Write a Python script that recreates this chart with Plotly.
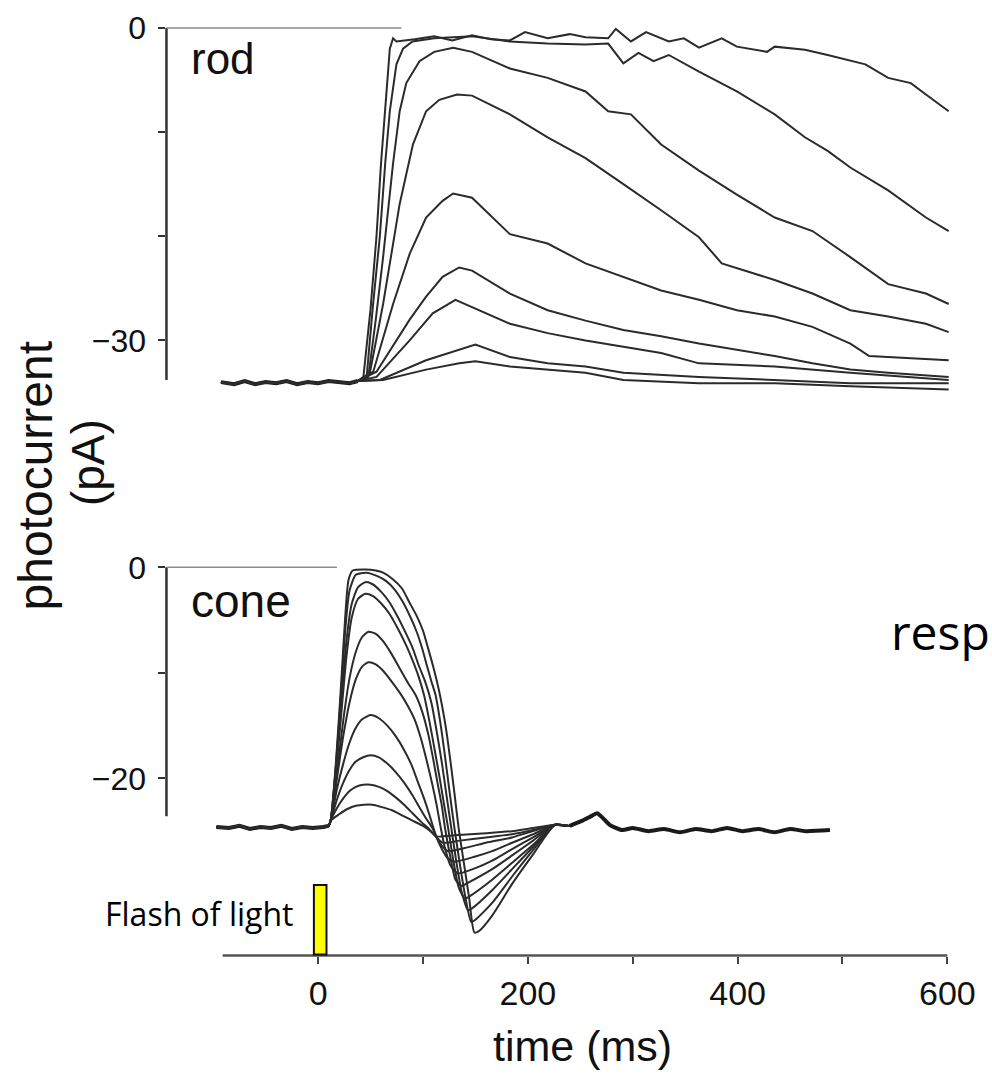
import plotly.graph_objects as go

W, H = 992, 1075

# ---------------- data (time in ms, photocurrent in pA) ----------------
rod_pre_t = [-92.6, -80, -70, -60, -50, -40, -30, -20, -10, 0, 10, 20, 30, 38]
rod_pre_v = [-34.0, -34.2, -33.9, -34.2, -34.0, -34.1, -33.9, -34.2, -34.0, -34.1, -33.9, -34.0, -34.1, -33.9]

rod1_t = [43.2, 50, 55.7, 60, 65.2, 68.4, 71.5, 74.7, 92, 110.7, 128, 146.8, 165, 182.9, 197.3, 218.9, 240, 255,
          276.6, 283.9, 298.3, 312.7, 334.4, 348.8, 363.2, 384.9, 399.3, 428.1, 435.4, 464.2, 485.9, 507.5, 521.9,
          543.6, 565.2, 579.6, 601.3]
rod1_v = [-33.5, -27, -20, -13, -6, -2.0, -1.0, -1.3, -1.1, -0.8, -1.2, -0.7, -1.1, -1.2, -0.4, -1.0, -0.6, -0.9,
          -1.0, -0.1, -1.3, -0.4, -1.3, -1.0, -1.9, -1.0, -1.8, -2.3, -1.8, -2.1, -2.6, -3.1, -3.5, -4.8, -5.3,
          -6.4, -8.0]
rod2_t = [46.3, 52, 58.9, 64, 68.4, 74.7, 81, 90, 110.7, 146.8, 182.9, 218.9, 255, 276.6, 291.1, 305.5, 319.9,
          334.4, 348.8, 363.2, 399.3, 435.4, 464.2, 485.9, 507.5, 543.6, 579.6, 601.3]
rod2_v = [-33.5, -27, -20, -13, -8, -3.5, -2.0, -1.3, -1.0, -0.8, -1.3, -1.5, -1.6, -1.5, -3.4, -2.4, -3.2,
          -2.6, -3.4, -4.2, -6.1, -8.3, -10.5, -11.8, -13.4, -15.6, -18.2, -19.5]
rod3_t = [47.9, 55, 62, 71.5, 77.8, 84.1, 96.7, 110.7, 128.8, 146.8, 182.9, 218.9, 255, 276.6, 298.3, 327.1,
          363.2, 399.3, 435.4, 471.4, 507.5, 543.6, 579.6, 601.3]
rod3_v = [-33.5, -28, -22, -13, -8, -5.3, -3.2, -2.3, -1.9, -2.3, -3.9, -4.8, -6.1, -8.0, -8.3, -11.2,
          -13.7, -16.0, -18.2, -19.5, -22.0, -24.6, -25.5, -26.5]
rod4_t = [49.4, 62, 77.8, 90.4, 103, 115.6, 132.4, 146.8, 182.9, 218.9, 255, 291.1, 327.1, 363.2, 384.9,
          435.4, 471.4, 507.5, 543.6, 579.6, 601.3]
rod4_v = [-33.1, -26.5, -16.9, -11.2, -8.0, -6.9, -6.4, -6.5, -8.3, -10.5, -12.5, -15.0, -17.5, -20.1, -22.6,
          -24.2, -25.5, -27.1, -27.7, -28.4, -29.2]
rod5_t = [52.6, 71.5, 87.3, 103, 118.7, 128.8, 146.8, 182.9, 218.9, 255, 291.1, 327.1, 363.2, 399.3, 435.4,
          471.4, 507.5, 525.5, 601.3]
rod5_v = [-33.0, -26.5, -21.7, -18.2, -16.6, -15.9, -16.3, -19.8, -20.7, -22.6, -23.9, -25.2, -26.1, -27.1,
          -27.7, -28.7, -30.3, -31.5, -31.9]
rod6_t = [55.7, 87.3, 103, 118.7, 134.5, 146.8, 182.9, 218.9, 255, 291.1, 327.1, 363.2, 399.3, 435.4, 471.4,
          507.5, 543.6, 601.3]
rod6_v = [-33.0, -28.0, -25.8, -23.9, -23.0, -23.3, -25.5, -27.1, -28.1, -29.0, -29.6, -30.3, -30.9, -31.5,
          -32.2, -32.8, -33.1, -33.5]
rod7_t = [55.7, 87.3, 109.3, 131, 182.9, 218.9, 255, 291.1, 327.1, 363.2, 435.4, 507.5, 601.3]
rod7_v = [-33.5, -30.0, -27.4, -26.1, -28.4, -29.3, -30.0, -30.6, -31.2, -32.2, -32.5, -33.1, -33.8]
rod8_t = [58.9, 103, 134.5, 150, 182.9, 218.9, 255, 291.1, 363.2, 435.4, 507.5, 601.3]
rod8_v = [-33.8, -31.9, -30.9, -30.4, -31.6, -32.2, -32.5, -33.1, -33.5, -33.8, -34.1, -34.1]
rod9_t = [62, 103, 134.5, 150, 182.9, 255, 291.1, 363.2, 435.4, 507.5, 601.3]
rod9_v = [-33.8, -32.8, -32.2, -32.0, -32.5, -33.1, -33.8, -34.1, -34.1, -34.4, -34.7]

cone_pre_t = [-97, -85, -75, -65, -55, -45, -35, -25, -15, -5, 5, 10]
cone_pre_v = [-24.6, -24.7, -24.5, -24.8, -24.6, -24.7, -24.5, -24.8, -24.6, -24.7, -24.6, -24.5]
cone_tail_t = [240, 252, 260, 266, 271, 278, 290, 300, 315, 330, 345, 360, 375, 390, 405, 420, 435, 450, 465, 488]
cone_tail_v = [-24.5, -24.0, -23.6, -23.3, -23.7, -24.4, -24.9, -24.7, -25.0, -24.8, -25.1, -24.8, -25.0, -24.7,
               -25.0, -24.8, -25.1, -24.8, -25.0, -24.9]

cone1_t = [12, 17, 22, 26, 29, 33, 45, 55, 62, 71, 80, 87, 94, 100, 105, 110, 116, 122, 126, 130, 134, 139, 144,
           149, 153, 166, 185, 205, 226]
cone1_v = [-24.0, -18.5, -11.0, -4.5, -1.2, -0.3, -0.2, -0.3, -0.5, -1.1, -2.0, -3.3, -4.6, -6.0, -7.7, -9.5,
           -12.0, -15.3, -18.2, -21.4, -24.7, -28.0, -31.3, -34.6, -34.5, -33.0, -30.0, -27.2, -24.4]
cone2_t = [12, 17, 22, 26, 30, 36, 46, 56, 65, 73, 81, 88, 94, 99, 104, 108, 112, 117, 121, 125, 130, 135, 140,
           146, 150, 166, 185, 205, 226]
cone2_v = [-24.0, -18.8, -11.8, -5.8, -2.2, -0.7, -0.5, -0.8, -1.3, -2.1, -3.3, -4.7, -6.1, -7.6, -9.4, -10.8,
           -12.1, -15.0, -17.9, -21.0, -24.7, -28.0, -31.0, -33.6, -33.4, -31.8, -29.3, -26.8, -24.4]
cone3_t = [12, 17, 22, 27, 32, 38, 45, 52, 60, 68, 76, 84, 90, 96, 102, 108, 113, 118, 122, 127, 132, 137, 143,
           147, 166, 185, 205, 226]
cone3_v = [-24.0, -19.0, -13.0, -7.0, -3.5, -1.9, -1.4, -1.6, -2.3, -3.3, -4.7, -6.3, -7.6, -9.3, -10.8, -12.8,
           -15.5, -18.5, -21.3, -24.7, -28.0, -30.8, -32.5, -32.3, -30.6, -28.6, -26.5, -24.4]
cone4_t = [12, 17, 22, 27, 32, 38, 45, 52, 60, 68, 76, 84, 90, 96, 101, 106, 111, 116, 120, 124, 129, 134, 140,
           144, 166, 185, 205, 226]
cone4_v = [-24.0, -19.5, -14.0, -8.5, -4.8, -3.0, -2.5, -2.7, -3.4, -4.4, -5.8, -7.4, -8.8, -10.4, -12.1, -14.5,
           -17.2, -20.0, -22.4, -24.7, -27.8, -30.3, -31.4, -31.2, -29.6, -28.0, -26.3, -24.4]
cone5_t = [12, 18, 24, 30, 36, 42, 48, 55, 62, 70, 78, 86, 93, 99, 105, 110, 114, 118, 121, 126, 131, 137, 141,
           166, 185, 205, 226]
cone5_v = [-24.0, -19.5, -14.5, -10.5, -8.0, -6.6, -6.1, -6.3, -7.0, -8.2, -9.6, -11.0, -12.1, -13.6, -15.8,
           -18.3, -20.5, -22.6, -24.7, -27.4, -29.6, -30.2, -30.0, -28.6, -27.3, -25.9, -24.4]
cone6_t = [12, 18, 24, 30, 36, 42, 48, 55, 62, 70, 78, 86, 92, 98, 104, 109, 113, 117, 121, 126, 133, 150, 166,
           185, 205, 226]
cone6_v = [-24.0, -20.0, -16.0, -12.8, -10.6, -9.4, -9.0, -9.2, -9.8, -10.8, -11.9, -13.2, -14.4, -16.2, -18.5,
           -20.6, -22.5, -24.7, -26.6, -28.2, -29.0, -28.5, -27.8, -26.7, -25.6, -24.4]
cone7_t = [12, 18, 24, 30, 36, 42, 50, 58, 66, 74, 82, 89, 95, 101, 106, 110, 113, 118, 123, 129, 150, 166, 185,
           205, 226]
cone7_v = [-24.0, -21.0, -18.6, -16.6, -15.2, -14.4, -14.0, -14.3, -15.0, -16.0, -17.3, -18.7, -20.3, -21.9,
           -23.4, -24.7, -25.6, -26.7, -27.5, -27.9, -27.4, -26.9, -26.1, -25.3, -24.4]
cone8_t = [12, 18, 24, 30, 36, 43, 50, 58, 66, 74, 82, 90, 97, 103, 109, 114, 119, 124, 140, 160, 185, 205, 226]
cone8_v = [-24.0, -22.0, -20.4, -19.2, -18.4, -18.0, -17.8, -18.0, -18.6, -19.4, -20.4, -21.6, -22.8, -23.8,
           -24.7, -25.8, -26.5, -26.9, -26.6, -26.1, -25.6, -25.0, -24.4]
cone9_t = [12, 18, 24, 30, 36, 43, 50, 58, 66, 74, 82, 90, 98, 105, 112, 119, 135, 160, 185, 205, 226]
cone9_v = [-24.0, -22.8, -21.9, -21.2, -20.8, -20.6, -20.6, -20.8, -21.2, -21.8, -22.5, -23.3, -24.1, -24.7,
           -25.5, -26.1, -25.9, -25.6, -25.3, -24.9, -24.4]
cone10_t = [12, 20, 28, 36, 44, 52, 60, 70, 80, 90, 100, 106, 113, 130, 160, 185, 205, 226]
cone10_v = [-24.0, -23.4, -22.9, -22.6, -22.5, -22.5, -22.7, -23.0, -23.5, -24.0, -24.5, -24.9, -25.5, -25.4,
            -25.2, -25.0, -24.7, -24.4]

rod_traces = [(rod1_t, rod1_v), (rod2_t, rod2_v), (rod3_t, rod3_v), (rod4_t, rod4_v), (rod5_t, rod5_v),
              (rod6_t, rod6_v), (rod7_t, rod7_v), (rod8_t, rod8_v), (rod9_t, rod9_v)]
cone_traces = [(cone1_t, cone1_v), (cone2_t, cone2_v), (cone3_t, cone3_v), (cone4_t, cone4_v),
               (cone5_t, cone5_v), (cone6_t, cone6_v), (cone7_t, cone7_v), (cone8_t, cone8_v),
               (cone9_t, cone9_v), (cone10_t, cone10_v)]

x_tickvals = [0, 100, 200, 300, 400, 500, 600]
x_ticktext = ['0', '', '200', '', '400', '', '600']
rod_tickvals = [0, -10, -20, -30]
rod_ticktext = ['0', '', '', '\u221230']
cone_tickvals = [0, -10, -20]
cone_ticktext = ['0', '', '\u221220']

# ---------------- layout calibration (pixels) ----------------
X_ZERO_PX, PX_PER_MS = 321.0, 635.0 / 600.0
XD0, XD1 = 168, 975
ROD_ZERO_PX, ROD_PX_PER_PA = 23.0, 314.0 / 30.0
ROD_D0, ROD_D1 = 10, 400
CONE_ZERO_PX, CONE_PX_PER_PA = 565.0, 212.0 / 20.0
CONE_D0, CONE_D1 = 550, 955


def fx(p):
    return p / W


def fy(p):
    return 1 - p / H


x_range = [(XD0 - X_ZERO_PX) / PX_PER_MS, (XD1 - X_ZERO_PX) / PX_PER_MS]
rod_range = [-(ROD_D1 - ROD_ZERO_PX) / ROD_PX_PER_PA, (ROD_ZERO_PX - ROD_D0) / ROD_PX_PER_PA]
cone_range = [-(CONE_D1 - CONE_ZERO_PX) / CONE_PX_PER_PA, (CONE_ZERO_PX - CONE_D0) / CONE_PX_PER_PA]

LINE = '#2b2b2b'
FONT = 'Liberation Sans, Arial, sans-serif'
SLIDE_FONT = 'Open Sans, Lato, sans-serif'

fig = go.Figure()
# thick overlapped pre-flash baselines
fig.add_trace(go.Scatter(x=rod_pre_t, y=rod_pre_v, mode='lines', xaxis='x', yaxis='y',
                         line=dict(color='#1a1a1a', width=4), hoverinfo='skip', showlegend=False))
fig.add_trace(go.Scatter(x=cone_pre_t, y=cone_pre_v, mode='lines', xaxis='x', yaxis='y2',
                         line=dict(color='#1a1a1a', width=4), hoverinfo='skip', showlegend=False))
for t, v in rod_traces:
    fig.add_trace(go.Scatter(x=rod_pre_t + t, y=rod_pre_v + v, mode='lines', xaxis='x', yaxis='y',
                             line=dict(color=LINE, width=2), hoverinfo='skip', showlegend=False))
for t, v in cone_traces:
    fig.add_trace(go.Scatter(x=cone_pre_t + t + cone_tail_t, y=cone_pre_v + v + cone_tail_v, mode='lines',
                             xaxis='x', yaxis='y2', line=dict(color=LINE, width=2, shape='spline', smoothing=0.6),
                             hoverinfo='skip', showlegend=False))
fig.add_trace(go.Scatter(x=cone_tail_t, y=cone_tail_v, mode='lines', xaxis='x', yaxis='y2',
                         line=dict(color='#1a1a1a', width=4, shape='spline', smoothing=0.6),
                         hoverinfo='skip', showlegend=False))

axis_common = dict(showgrid=False, zeroline=False, showline=False, ticks='outside', ticklen=7, tickwidth=2,
                   tickcolor='#333', tickfont=dict(family=FONT, size=32, color='#111'))

fig.update_layout(
    width=W, height=H, margin=dict(l=0, r=0, t=0, b=0),
    paper_bgcolor='white', plot_bgcolor='white', showlegend=False,
    xaxis=dict(domain=[fx(XD0), fx(XD1)], range=x_range, anchor='y2', tickvals=x_tickvals, ticktext=x_ticktext,
               ticklabelstandoff=1, showgrid=False, zeroline=False, showline=False, ticks='outside', ticklen=7,
               tickwidth=2, tickcolor='#444', tickfont=dict(family=FONT, size=34, color='#111')),
    yaxis=dict(domain=[fy(ROD_D1), fy(ROD_D0)], range=rod_range, anchor='x', tickvals=rod_tickvals,
               ticktext=rod_ticktext, ticklabelstandoff=6, **axis_common),
    yaxis2=dict(domain=[fy(CONE_D1), fy(CONE_D0)], range=cone_range, anchor='x', tickvals=cone_tickvals,
                ticktext=cone_ticktext, ticklabelstandoff=6, **axis_common),
)

shapes = [
    # y-axis lines
    dict(type='line', xref='paper', yref='y', x0=fx(XD0), x1=fx(XD0), y0=0, y1=-33.8,
         line=dict(color='#333', width=2.5)),
    dict(type='line', xref='paper', yref='y2', x0=fx(XD0), x1=fx(XD0), y0=0, y1=-23.6,
         line=dict(color='#333', width=2.5)),
    # zero reference lines
    dict(type='line', xref='paper', yref='y', x0=fx(XD0), x1=fx(405), y0=0, y1=0,
         line=dict(color='#8a8a8a', width=1.5)),
    dict(type='line', xref='paper', yref='y2', x0=fx(XD0), x1=fx(340), y0=0, y1=0,
         line=dict(color='#8a8a8a', width=1.5)),
    # x-axis line
    dict(type='line', xref='x', yref='y2 domain', x0=-91, x1=600, y0=0, y1=0,
         line=dict(color='#555', width=2.5)),
    # flash of light
    dict(type='rect', xref='x', yref='paper', x0=-4, x1=8, y0=fy(954), y1=fy(884),
         fillcolor='#FFFF00', line=dict(color='#111', width=2)),
]
fig.update_layout(shapes=shapes)

ann = [
    dict(text='rod', x=fx(191), y=fy(54), xanchor='left', yanchor='middle',
         font=dict(family=FONT, size=44, color='#111')),
    dict(text='cone', x=fx(191), y=fy(599), xanchor='left', yanchor='middle',
         font=dict(family=FONT, size=46, color='#111')),
    dict(text='photocurrent', x=fx(36), y=fy(473), textangle=-90, xanchor='center', yanchor='middle',
         font=dict(family=FONT, size=48, color='#111')),
    dict(text='(pA)', x=fx(89), y=fy(460), textangle=-90, xanchor='center', yanchor='middle',
         font=dict(family=FONT, size=46, color='#111')),
    dict(text='time (ms)', x=fx(588), y=fy(1046), xanchor='center', yanchor='middle',
         font=dict(family=FONT, size=43, color='#111')),
    dict(text='Flash of light', x=fx(298), y=fy(913), xanchor='right', yanchor='middle',
         font=dict(family=SLIDE_FONT, size=32, color='#000')),
    dict(text='resp', x=fx(897), y=fy(629), xanchor='left', yanchor='middle',
         font=dict(family=SLIDE_FONT, size=48, color='#000')),
]
for a in ann:
    a.update(xref='paper', yref='paper', showarrow=False)
fig.update_layout(annotations=ann)

fig.write_html('out.html', config={'displayModeBar': False},
               post_script="document.body.style.margin='0';document.body.style.overflow='hidden';")
